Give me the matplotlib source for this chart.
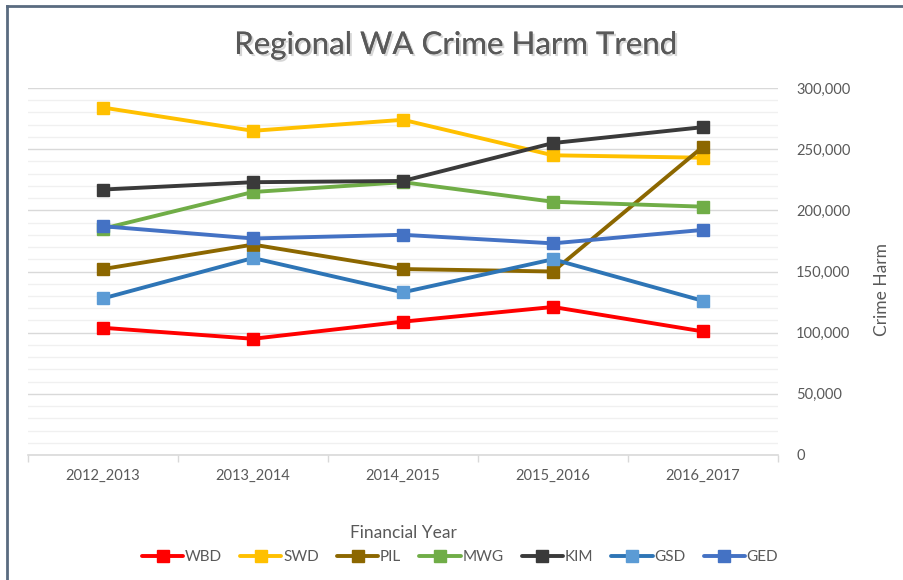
import matplotlib
matplotlib.use("Agg")
import matplotlib.pyplot as plt
import matplotlib.patheffects as pe
from matplotlib.lines import Line2D
from matplotlib.ticker import MultipleLocator, FuncFormatter, FixedLocator

plt.rcParams['font.family'] = ['Lato', 'DejaVu Sans']

# data
years = ['2012_2013', '2013_2014', '2014_2015', '2015_2016', '2016_2017']
wbd = [104000, 95000, 109000, 121000, 101000]
swd = [284000, 265000, 274000, 245000, 243000]
pil = [152000, 172000, 152000, 150000, 252000]
mwg = [185000, 215000, 223000, 207000, 203000]
kim = [217000, 223000, 224000, 255000, 268000]
gsd = [128000, 161000, 133000, 160000, 126000]
ged = [187000, 177000, 180000, 173000, 184000]

series = [
    ('WBD', wbd, '#FF0000', '#FF0000'),
    ('SWD', swd, '#FFC000', '#FFC000'),
    ('PIL', pil, '#8C6700', '#8C6700'),
    ('MWG', mwg, '#70AD47', '#70AD47'),
    ('KIM', kim, '#3A3A3A', '#3A3A3A'),
    ('GSD', gsd, '#2E75B6', '#5B9BD5'),
    ('GED', ged, '#4472C4', '#4472C4'),
]

txt = '#595959'

fig = plt.figure(figsize=(9.04, 5.8), dpi=100)
ax = fig.add_axes([28/904, 1-455/580, 750/904, 367/580])

x = list(range(len(years)))
for name, vals, lc, mc in series:
    ax.plot(x, vals, color=lc, lw=2.8, marker='s', ms=8.5,
            mfc=mc, mec=mc, label=name, solid_capstyle='round')

ax.set_xlim(-0.5, 4.5)
ax.set_ylim(0, 300000)

# gridlines
ax.yaxis.set_major_locator(MultipleLocator(50000))
ax.yaxis.set_minor_locator(MultipleLocator(10000))
ax.grid(which='major', axis='y', color='#D9D9D9', lw=1)
ax.grid(which='minor', axis='y', color='#F0F0F0', lw=1)
ax.set_axisbelow(True)

for s in ['top', 'left', 'right']:
    ax.spines[s].set_visible(False)
ax.spines['bottom'].set_color('#D9D9D9')
ax.spines['bottom'].set_linewidth(1.2)

ax.yaxis.tick_right()
ax.yaxis.set_major_formatter(FuncFormatter(lambda v, p: f'{int(v):,}'))
ax.tick_params(axis='y', which='both', length=0, pad=13, labelsize=10.5, labelcolor=txt)

ax.set_xticks(x)
ax.set_xticklabels(years)
ax.xaxis.set_minor_locator(FixedLocator([-0.5, 0.5, 1.5, 2.5, 3.5, 4.5]))
ax.tick_params(axis='x', which='major', length=0, pad=10, labelsize=10.5, labelcolor=txt)
ax.tick_params(axis='x', which='minor', length=5, color='#D9D9D9', width=1)

ax.set_xlabel('Financial Year', fontsize=12.5, color=txt, labelpad=0)
ax.xaxis.set_label_coords(0.5, -0.19)
ax.yaxis.set_label_position('right')
ax.set_ylabel('Crime Harm', fontsize=12.5, color=txt, rotation=90, labelpad=0)
ax.yaxis.set_label_coords(1.128, 0.45)

fig.text(456/904, 1-45/580, 'Regional WA Crime Harm Trend', ha='center', va='center',
         fontsize=22.5, color=txt,
         path_effects=[pe.withSimplePatchShadow(offset=(1.5, -1.5), shadow_rgbFace='#BBBBBB', alpha=0.6), pe.Normal()])

leg = ax.legend(loc='center', bbox_to_anchor=(460/904, 1-557/580), bbox_transform=fig.transFigure,
                ncol=7, frameon=False, fontsize=11, handlelength=2.7, handletextpad=0.1,
                columnspacing=1.2)
for t in leg.get_texts():
    t.set_color(txt)

# outer border (top and left edges visible)
fig.add_artist(Line2D([7/904, 7/904], [0, 1-6/580], transform=fig.transFigure, color='#5A6B80', lw=2))
fig.add_artist(Line2D([7/904, 1], [1-6/580, 1-6/580], transform=fig.transFigure, color='#5A6B80', lw=2))

fig.savefig('out.png', dpi=100)
